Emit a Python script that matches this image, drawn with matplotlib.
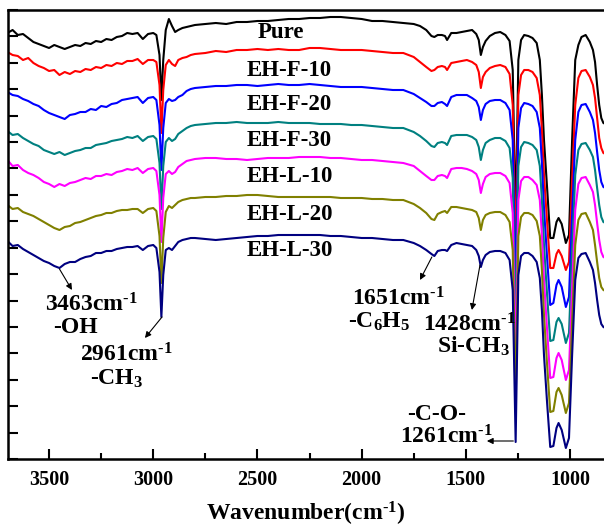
import numpy as np
import matplotlib
matplotlib.use('Agg')
import matplotlib.pyplot as plt

plt.rcParams['font.family'] = 'Liberation Serif'
plt.rcParams['font.weight'] = 'bold'
plt.rcParams['mathtext.fontset'] = 'custom'
plt.rcParams['mathtext.rm'] = 'Liberation Serif:bold'
plt.rcParams['mathtext.it'] = 'Liberation Serif:bold'
plt.rcParams['mathtext.bf'] = 'Liberation Serif:bold'

# wavenumber grid (cm-1), shared by all spectra
WN = [3700, 3675, 3650, 3625, 3600, 3575, 3550, 3525, 3500, 3475, 3450, 3425, 3400, 3375, 3350,
      3325, 3300, 3275, 3250, 3225, 3200, 3175, 3150, 3125, 3100, 3075, 3050, 3025, 3000,
      2985, 2970, 2961, 2952, 2940, 2925, 2910, 2895, 2880, 2860, 2840, 2820, 2800,
      2750, 2700, 2650, 2600, 2550, 2500, 2450, 2400, 2350, 2300, 2250, 2200, 2150, 2100,
      2050, 2000, 1950, 1900, 1850, 1800, 1750,
      1720, 1690, 1665, 1651, 1635, 1615, 1600, 1590, 1570, 1545, 1520, 1495, 1470, 1450,
      1438, 1428, 1418, 1405, 1385, 1360, 1335, 1310, 1290, 1275, 1261, 1248, 1235, 1220,
      1200, 1180, 1160, 1145, 1135, 1125, 1110, 1095, 1080, 1065, 1055, 1040, 1020, 1005,
      990, 975, 960, 945, 925, 905, 890, 880, 870, 860, 850, 840, 830]

# stacked transmittance (a.u.)
PURE = [426, 429, 424, 425, 421, 417, 415, 413, 411, 414, 412, 410, 412, 414, 413,
        416, 415, 418, 417, 420, 419, 422, 423, 426, 425, 426, 420, 425, 426,
        424, 404, 359, 399, 429, 440, 433, 427, 429, 431, 432, 433, 434,
        435, 436, 435, 437, 437, 438, 438, 439, 440, 440, 441, 441, 442, 442,
        441, 440, 438, 438, 437, 436, 435,
        433, 429, 423, 422, 424, 424, 423, 419, 426, 426, 427, 428, 429, 425,
        419, 404, 412, 418, 423, 426, 427, 424, 418, 389, 234, 399, 419, 424,
        423, 421, 416, 399, 364, 319, 271, 221, 221, 237, 241, 235, 216, 224,
        319, 399, 414, 422, 424, 417, 409, 397, 374, 354, 341, 336, 335]
EHF10 = [407, 404, 403, 399, 401, 396, 393, 391, 388, 389, 384, 387, 385, 388, 387,
         390, 389, 392, 391, 394, 393, 396, 395, 398, 398, 400, 395, 399, 399,
         397, 374, 326, 369, 394, 399, 395, 393, 399, 401, 402, 404, 405,
         406, 408, 407, 409, 409, 410, 409, 410, 409, 409, 411, 411, 410, 409,
         409, 409, 408, 407, 406, 406, 402,
         397, 392, 388, 389, 392, 393, 392, 389, 396, 397, 398, 399, 397, 394,
         387, 371, 382, 387, 391, 393, 394, 392, 385, 354, 197, 364, 384, 389,
         389, 387, 381, 364, 329, 284, 237, 191, 191, 205, 209, 203, 189, 197,
         279, 354, 381, 388, 389, 382, 374, 361, 341, 321, 311, 306, 305]
EHF20 = [367, 364, 363, 360, 358, 355, 353, 349, 346, 344, 342, 340, 344, 345, 347,
         347, 350, 349, 353, 352, 355, 356, 359, 360, 361, 362, 356, 361, 362,
         359, 334, 289, 331, 356, 360, 358, 359, 362, 364, 368, 370, 371,
         372, 373, 373, 374, 374, 373, 374, 375, 374, 374, 375, 374, 373, 372,
         372, 372, 371, 370, 369, 369, 365,
         361, 357, 353, 353, 356, 357, 355, 353, 362, 364, 364, 364, 361, 358,
         352, 339, 349, 355, 358, 359, 359, 356, 349, 319, 164, 331, 351, 356,
         355, 353, 347, 331, 296, 251, 201, 154, 156, 174, 179, 172, 152, 162,
         244, 319, 347, 354, 355, 347, 339, 326, 307, 289, 277, 272, 271]
EHF30 = [328, 324, 325, 321, 318, 315, 313, 309, 307, 305, 307, 304, 306, 308, 309,
         311, 311, 314, 315, 316, 318, 319, 320, 322, 321, 323, 318, 322, 323,
         320, 296, 250, 293, 317, 321, 318, 320, 325, 328, 331, 333, 334,
         335, 336, 336, 337, 336, 336, 336, 337, 336, 336, 336, 335, 335, 335,
         334, 334, 333, 332, 331, 331, 327,
         323, 318, 313, 312, 316, 317, 316, 314, 323, 324, 324, 324, 322, 319,
         312, 299, 309, 316, 319, 321, 321, 318, 311, 281, 126, 293, 312, 317,
         316, 314, 309, 293, 259, 214, 164, 118, 119, 137, 141, 135, 116, 126,
         207, 284, 309, 315, 316, 309, 302, 289, 271, 254, 242, 237, 236]
EHL10 = [299, 293, 294, 289, 286, 284, 281, 277, 275, 272, 275, 273, 276, 277, 279,
         281, 280, 283, 283, 285, 284, 287, 288, 290, 289, 291, 286, 290, 291,
         288, 264, 217, 261, 285, 288, 285, 287, 292, 295, 298, 299, 300,
         301, 301, 300, 300, 299, 300, 301, 301, 301, 302, 302, 302, 301, 301,
         300, 299, 299, 298, 297, 296, 293,
         288, 283, 279, 279, 283, 284, 283, 281, 290, 291, 291, 290, 288, 285,
         279, 266, 275, 282, 285, 286, 286, 283, 276, 246, 91, 259, 278, 282,
         282, 279, 274, 259, 224, 179, 129, 81, 82, 101, 106, 99, 79, 89,
         171, 249, 275, 281, 282, 274, 267, 254, 236, 219, 207, 202, 201]
EHL20 = [254, 250, 251, 247, 245, 243, 240, 237, 234, 231, 229, 232, 233, 236, 237,
         239, 241, 243, 244, 246, 246, 248, 249, 249, 250, 250, 246, 250, 251,
         248, 223, 176, 221, 247, 253, 251, 254, 257, 259, 260, 261, 261,
         262, 262, 263, 263, 264, 264, 263, 262, 262, 262, 262, 262, 262, 261,
         261, 261, 260, 260, 259, 259, 255,
         251, 246, 240, 239, 245, 247, 248, 246, 252, 252, 251, 250, 249, 247,
         241, 229, 239, 244, 246, 247, 247, 244, 237, 209, 54, 223, 242, 246,
         246, 244, 238, 223, 189, 144, 94, 47, 48, 67, 71, 64, 46, 56,
         137, 214, 239, 245, 246, 237, 229, 214, 197, 181, 172, 169, 168]
EHL30 = [218, 213, 214, 210, 207, 204, 201, 198, 196, 193, 191, 195, 197, 197, 200,
         202, 203, 206, 206, 208, 208, 210, 211, 212, 212, 213, 209, 213, 214,
         211, 187, 142, 184, 209, 211, 209, 213, 217, 219, 220, 221, 221,
         220, 219, 220, 221, 222, 223, 223, 224, 224, 224, 224, 224, 223, 223,
         222, 221, 221, 220, 219, 219, 216,
         213, 209, 205, 203, 208, 209, 209, 208, 214, 216, 215, 214, 213, 209,
         203, 192, 199, 204, 207, 208, 208, 206, 199, 169, 17, 184, 203, 206,
         206, 203, 197, 181, 149, 104, 56, 12, 13, 31, 36, 29, 11, 21,
         104, 179, 201, 205, 206, 197, 189, 176, 159, 144, 135, 132, 131]

NAMES = ['Pure', 'EH-F-10', 'EH-F-20', 'EH-F-30', 'EH-L-10', 'EH-L-20', 'EH-L-30']
SPECTRA = [PURE, EHF10, EHF20, EHF30, EHL10, EHL20, EHL30]
COLORS = ['#000000', '#ff0000', '#0000ff', '#008080', '#ff00ff', '#808000', '#000080']
# where each name sits (wavenumber of left edge, height)
NAME_POS = [(2497, 426), (2550, 389), (2550, 354), (2550, 318), (2550, 282), (2550, 245), (2550, 209)]

fig = plt.figure(figsize=(6.04, 5.29), dpi=100)
ax = fig.add_axes([8 / 604, 70 / 529, 596 / 604, 449 / 529])

wn = np.array(WN)
for y, c in zip(SPECTRA, COLORS):
    ax.plot(wn, y, color=c, lw=1.5)

for name, (px, py) in zip(NAMES, NAME_POS):
    ax.text(px, py, name, fontsize=16.5, fontweight='bold', ha='left', va='center')

# band assignments
arw = dict(arrowstyle='-|>', color='black', lw=0.8, mutation_scale=9, shrinkA=0, shrinkB=0)
for tail, head in [((3450, 190), (3390, 169)), ((2958, 142), (3040, 121)),
                   ((1663, 202), (1720, 179)), ((1432, 194), (1471, 149)),
                   ((1272, 18), (1399, 18))]:
    ax.annotate('', xy=head, xytext=tail, arrowprops=arw)

sup = r'cm$^{\text{-1}}$'
for txt, x, y in [('3463' + sup, 3519, 147), ('-OH', 3481, 126),
                  ('2961' + sup, 3351, 97), ('-CH$_3$', 3303, 74),
                  ('1651' + sup, 2046, 154), ('-C$_6$H$_5$', 2066, 131),
                  ('1428' + sup, 1706, 128), ('Si-CH$_3$', 1638, 106),
                  ('-C-O-', 1782, 39), ('1261' + sup, 1816, 15)]:
    ax.text(x, y, txt, fontsize=17, fontweight='bold', ha='left', va='baseline')

# ticks first, limits after (set_xticks would widen the view)
ax.set_xticks([3500, 3000, 2500, 2000, 1500, 1000])
ax.set_xticks(np.arange(3750, 800, -250), minor=True)
ax.set_yticks(np.linspace(0, 449, 18))
ax.set_yticklabels([])
ax.set_xlim(3697, 837)
ax.set_ylim(0, 449)
ax.tick_params(axis='both', which='major', direction='in', length=7, width=1.5,
               labelsize=14.5, pad=8)
ax.tick_params(axis='x', which='minor', direction='in', length=4, width=1.5)
ax.tick_params(axis='y', which='both', right=False)
for s in ['left', 'bottom', 'top']:
    ax.spines[s].set_linewidth(1.8)
ax.spines['right'].set_visible(False)
for lab in ax.get_xticklabels():
    lab.set_fontweight('bold')
ax.set_xlabel('Wavenumber(cm$^{\\text{-1}}$)', fontsize=17, fontweight='bold', labelpad=7)

fig.savefig('out.png', dpi=100)
